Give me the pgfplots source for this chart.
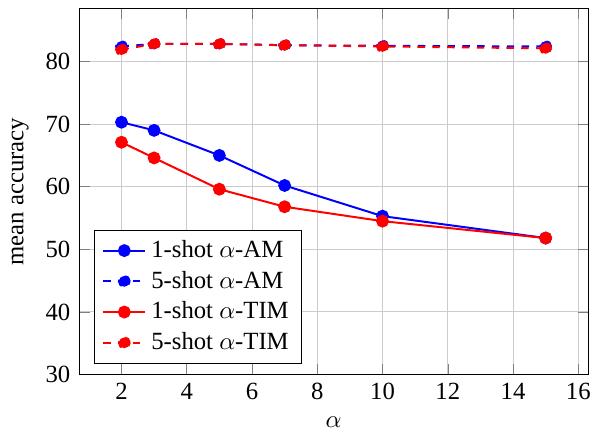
\documentclass[border=0pt]{standalone}
\usepackage{fontspec}
\setmainfont{Liberation Serif}
\usepackage{pgfplots}
\pgfplotsset{compat=1.18}
\begin{document}
\begin{tikzpicture}
\begin{axis}[
  scale only axis,
  width=206pt, height=148pt,
  xmin=0.7, xmax=16.3,
  ymin=30, ymax=88.4,
  xtick={2,4,...,16},
  ytick={30,40,...,80},
  grid=major,
  major grid style={gray!40},
  xlabel={$\alpha$},
  ylabel={mean accuracy},
  legend pos=south west,
  legend cell align=left,
  /pgf/number format/assume math mode=true,
  every axis plot/.append style={thick, mark=*, mark size=2.2pt},
]
\addplot[blue] coordinates {(2,70.3) (3,69.0) (5,65.0) (7,60.2) (10,55.3) (15,51.8)};
\addlegendentry{1-shot $\alpha$-AM}
\addplot[blue, dashed] coordinates {(2,82.4) (3,82.8) (5,82.8) (7,82.6) (10,82.5) (15,82.4)};
\addlegendentry{5-shot $\alpha$-AM}
\addplot[red] coordinates {(2,67.1) (3,64.6) (5,59.6) (7,56.8) (10,54.5) (15,51.8)};
\addlegendentry{1-shot $\alpha$-TIM}
\addplot[red, dashed] coordinates {(2,81.9) (3,82.8) (5,82.8) (7,82.6) (10,82.4) (15,82.1)};
\addlegendentry{5-shot $\alpha$-TIM}
\end{axis}
\path (current axis.south west) ++(-32pt,-23.5pt) coordinate (bbsw);
\path (current axis.north east) ++(1.6pt,3.6pt) coordinate (bbne);
\pgfresetboundingbox
\useasboundingbox (bbsw) rectangle (bbne);
\end{tikzpicture}
\end{document}
